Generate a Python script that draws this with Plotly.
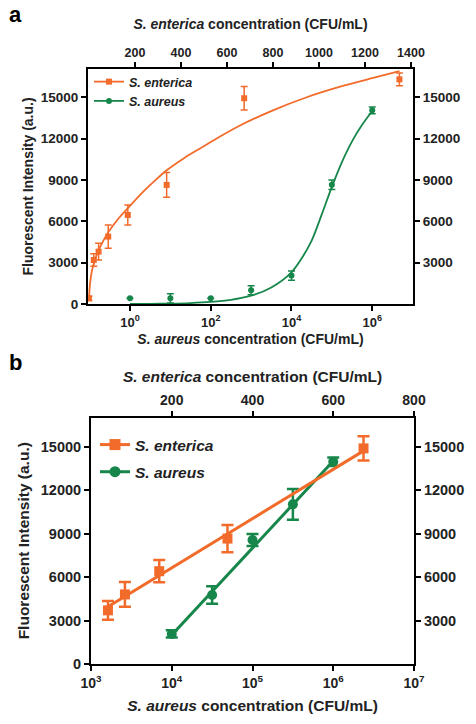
import plotly.graph_objects as go

ORANGE = "#F26B2A"
GREEN = "#17864A"
FONT = "Liberation Sans"

# ---------------- Panel a data ----------------
a_ent_conc = [0, 21, 42, 84, 169, 338, 675, 1350]
a_ent_val = [410, 3190, 3800, 4890, 6460, 8640, 14930, 16300]
a_ent_err = [150, 450, 600, 850, 725, 900, 850, 460]
a_ent_fit_conc = [0, 5, 13, 26, 42, 63, 84, 126, 169, 230, 287, 338, 415, 490, 570, 657, 800, 947, 1100, 1236, 1350]
a_ent_fit_val = [363, 1500, 2400, 3200, 3900, 4600, 5200, 6150, 6950, 8050, 8950, 9700, 10600, 11350, 12150,
                 12950, 14050, 15000, 15800, 16400, 16900]

a_aur_conc = [1, 10, 100, 1000, 10000, 100000, 1000000]
a_aur_val = [410, 410, 410, 1000, 2060, 8650, 14050]
a_aur_err = [0, 340, 0, 330, 340, 350, 250]
a_aur_fit_conc = [1, 3.16, 10, 31.6, 100, 316, 1000, 3162, 10000, 17783, 31623, 56234, 100000, 177828, 316228,
                  562341, 1000000]
a_aur_fit_val = [0, 10, 30, 70, 150, 300, 600, 1200, 2300, 3300, 4600, 6500, 8500, 10300, 11800, 13000, 14000]

# ---------------- Panel b data ----------------
b_ent_conc = [42, 84, 169, 338, 675]
b_ent_val = [3700, 4800, 6400, 8650, 14870]
b_ent_err = [650, 850, 770, 940, 840]
b_ent_fit_conc = [42, 675]
b_ent_fit_val = [3950, 14700]

b_aur_conc = [10000, 31623, 100000, 316228, 1000000]
b_aur_val = [2070, 4760, 8550, 11010, 13950]
b_aur_err = [250, 600, 410, 1060, 300]
b_aur_fit_conc = [10000, 1000000]
b_aur_fit_val = [2000, 14000]

# tick labels
y_left_ticks = [0, 3000, 6000, 9000, 12000, 15000]
y_left_text = ["0", "3000", "6000", "9000", "12000", "15000"]
y_right_ticks = [3000, 6000, 9000, 12000, 15000]
y_right_text = ["3000", "6000", "9000", "12000", "15000"]
a_top_ticks = [200, 400, 600, 800, 1000, 1200, 1400]
a_top_text = ["200", "400", "600", "800", "1000", "1200", "1400"]
a_bot_ticks = [1, 100, 10000, 1000000]
a_bot_text = ["10<sup>0</sup>", "10<sup>2</sup>", "10<sup>4</sup>", "10<sup>6</sup>"]
b_top_ticks = [200, 400, 600, 800]
b_top_text = ["200", "400", "600", "800"]
b_bot_ticks = [1000, 10000, 100000, 1000000, 10000000]
b_bot_text = ["10<sup>3</sup>", "10<sup>4</sup>", "10<sup>5</sup>", "10<sup>6</sup>", "10<sup>7</sup>"]

fig = go.Figure()

# ---- panel a traces ----
fig.add_trace(go.Scatter(x=a_ent_fit_conc, y=a_ent_fit_val, xaxis="x2", yaxis="y",
                         mode="lines", line=dict(color=ORANGE, width=1.8, shape="spline", smoothing=0.8),
                         showlegend=False, cliponaxis=False))
fig.add_trace(go.Scatter(x=a_ent_conc, y=a_ent_val, xaxis="x2", yaxis="y",
                         mode="markers", marker=dict(symbol="square", size=6, color=ORANGE),
                         error_y=dict(type="data", array=a_ent_err, color=ORANGE, thickness=1.5, width=3.5),
                         showlegend=False, cliponaxis=False))
fig.add_trace(go.Scatter(x=a_aur_fit_conc, y=a_aur_fit_val, xaxis="x", yaxis="y",
                         mode="lines", line=dict(color=GREEN, width=1.8, shape="spline", smoothing=0.8),
                         showlegend=False, cliponaxis=False))
fig.add_trace(go.Scatter(x=a_aur_conc, y=a_aur_val, xaxis="x", yaxis="y",
                         mode="markers", marker=dict(symbol="circle", size=6, color=GREEN),
                         error_y=dict(type="data", array=a_aur_err, color=GREEN, thickness=1.5, width=3.5),
                         showlegend=False, cliponaxis=False))
# legend entries panel a
fig.add_trace(go.Scatter(x=[None], y=[None], xaxis="x", yaxis="y", mode="lines+markers",
                         name="<i>S. enterica</i>", legend="legend", legendgroup="ae",
                         line=dict(color=ORANGE, width=1.8), marker=dict(symbol="square", size=6, color=ORANGE)))
fig.add_trace(go.Scatter(x=[None], y=[None], xaxis="x", yaxis="y", mode="lines+markers",
                         name="<i>S. aureus</i>", legend="legend", legendgroup="as",
                         line=dict(color=GREEN, width=1.8), marker=dict(symbol="circle", size=6, color=GREEN)))
# dummy for right axis
fig.add_trace(go.Scatter(x=[None], y=[None], xaxis="x", yaxis="y2", mode="lines", showlegend=False))

# ---- panel b traces ----
fig.add_trace(go.Scatter(x=b_ent_fit_conc, y=b_ent_fit_val, xaxis="x4", yaxis="y3",
                         mode="lines", line=dict(color=ORANGE, width=3),
                         showlegend=False, cliponaxis=False))
fig.add_trace(go.Scatter(x=b_ent_conc, y=b_ent_val, xaxis="x4", yaxis="y3",
                         mode="markers", marker=dict(symbol="square", size=10, color=ORANGE),
                         error_y=dict(type="data", array=b_ent_err, color=ORANGE, thickness=2.5, width=6),
                         showlegend=False, cliponaxis=False))
fig.add_trace(go.Scatter(x=b_aur_fit_conc, y=b_aur_fit_val, xaxis="x3", yaxis="y3",
                         mode="lines", line=dict(color=GREEN, width=3),
                         showlegend=False, cliponaxis=False))
fig.add_trace(go.Scatter(x=b_aur_conc, y=b_aur_val, xaxis="x3", yaxis="y3",
                         mode="markers", marker=dict(symbol="circle", size=10, color=GREEN),
                         error_y=dict(type="data", array=b_aur_err, color=GREEN, thickness=2.5, width=6),
                         showlegend=False, cliponaxis=False))
fig.add_trace(go.Scatter(x=[None], y=[None], xaxis="x3", yaxis="y3", mode="lines+markers",
                         name="<i>S. enterica</i>", legend="legend2", legendgroup="be",
                         line=dict(color=ORANGE, width=3), marker=dict(symbol="square", size=11, color=ORANGE)))
fig.add_trace(go.Scatter(x=[None], y=[None], xaxis="x3", yaxis="y3", mode="lines+markers",
                         name="<i>S. aureus</i>", legend="legend2", legendgroup="bs",
                         line=dict(color=GREEN, width=3), marker=dict(symbol="circle", size=11, color=GREEN)))
fig.add_trace(go.Scatter(x=[None], y=[None], xaxis="x3", yaxis="y4", mode="lines", showlegend=False))

W, H = 476, 724
a_dom_x = [88 / W, 413 / W]
a_dom_y = [1 - 304 / H, 1 - 69 / H]
b_dom_x = [91 / W, 414 / W]
b_dom_y = [1 - 664 / H, 1 - 417.5 / H]

def axis_common(size):
    return dict(showline=True, linecolor="black", linewidth=2, ticks="outside", automargin=False,
                ticklen=5, tickwidth=1.6, tickcolor="black", showgrid=False, zeroline=False,
                tickfont=dict(family=FONT, size=size, color="#222", weight="bold"))

title_font_a = dict(family=FONT, size=14, color="#222", weight="bold")
title_font_b = dict(family=FONT, size=15.5, color="#222", weight="bold")

fig.update_layout(
    width=W, height=H, autosize=False,
    margin=dict(l=0, r=0, t=0, b=0, pad=0),
    plot_bgcolor="white", paper_bgcolor="white",
    xaxis=dict(**axis_common(13), type="log", domain=a_dom_x, anchor="y",
               range=[-1.04, 7.01], tickvals=a_bot_ticks, ticktext=a_bot_text,
               title=dict(text="<i>S. aureus</i> concentration (CFU/mL)", font=title_font_a, standoff=6)),
    xaxis2=dict(**axis_common(12.5), domain=a_dom_x, anchor="y", overlaying="x", side="top",
                range=[-4, 1409], tickvals=a_top_ticks, ticktext=a_top_text,
                title=dict(text="<i>S. enterica</i> concentration (CFU/mL)", font=title_font_a, standoff=13)),
    yaxis=dict(**axis_common(13.5), domain=a_dom_y, anchor="x", range=[0, 17050],
               tickvals=y_left_ticks, ticktext=y_left_text,
               title=dict(text="Fluorescent Intensity (a.u.)", font=title_font_a, standoff=4)),
    yaxis2=dict(**axis_common(13.5), domain=a_dom_y, anchor="x", overlaying="y", side="right",
                range=[0, 17050], tickvals=y_right_ticks, ticktext=y_right_text),
    xaxis3=dict(**axis_common(14), type="log", domain=b_dom_x, anchor="y3",
                range=[3, 7], tickvals=b_bot_ticks, ticktext=b_bot_text,
                title=dict(text="<i>S. aureus</i> concentration (CFU/mL)", font=title_font_b, standoff=10)),
    xaxis4=dict(**axis_common(14), domain=b_dom_x, anchor="y3", overlaying="x3", side="top",
                range=[0, 800], tickvals=b_top_ticks, ticktext=b_top_text,
                title=dict(text="<i>S. enterica</i> concentration (CFU/mL)", font=title_font_b, standoff=5)),
    yaxis3=dict(**axis_common(14.5), domain=b_dom_y, anchor="x3", range=[0, 17000],
                tickvals=y_left_ticks, ticktext=y_left_text,
                title=dict(text="Fluorescent Intensity (a.u.)", font=title_font_b, standoff=7)),
    yaxis4=dict(**axis_common(14.5), domain=b_dom_y, anchor="x3", overlaying="y3", side="right",
                range=[0, 17000], tickvals=y_right_ticks, ticktext=y_right_text),
    legend=dict(x=89 / W, y=1 - 67 / H, xanchor="left", yanchor="top", bgcolor="rgba(0,0,0,0)",
                font=dict(family=FONT, size=12.5, color="#222", weight="bold"),
                tracegroupgap=0, itemwidth=30),
    legend2=dict(x=95 / W, y=1 - 428 / H, xanchor="left", yanchor="top", bgcolor="rgba(0,0,0,0)",
                 font=dict(family=FONT, size=15.5, color="#222", weight="bold"),
                 tracegroupgap=4, itemwidth=30),
    annotations=[
        dict(text="a", x=15 / W, y=1 - 15 / H, xref="paper", yref="paper", showarrow=False,
             font=dict(family=FONT, size=22, color="black", weight="bold"), xanchor="center", yanchor="middle"),
        dict(text="b", x=15 / W, y=1 - 362 / H, xref="paper", yref="paper", showarrow=False,
             font=dict(family=FONT, size=22, color="black", weight="bold"), xanchor="center", yanchor="middle"),
    ],
)

fig.write_html("out.html", config={"displayModeBar": False},
               post_script="document.body.style.margin='0';document.body.style.overflow='hidden';")
